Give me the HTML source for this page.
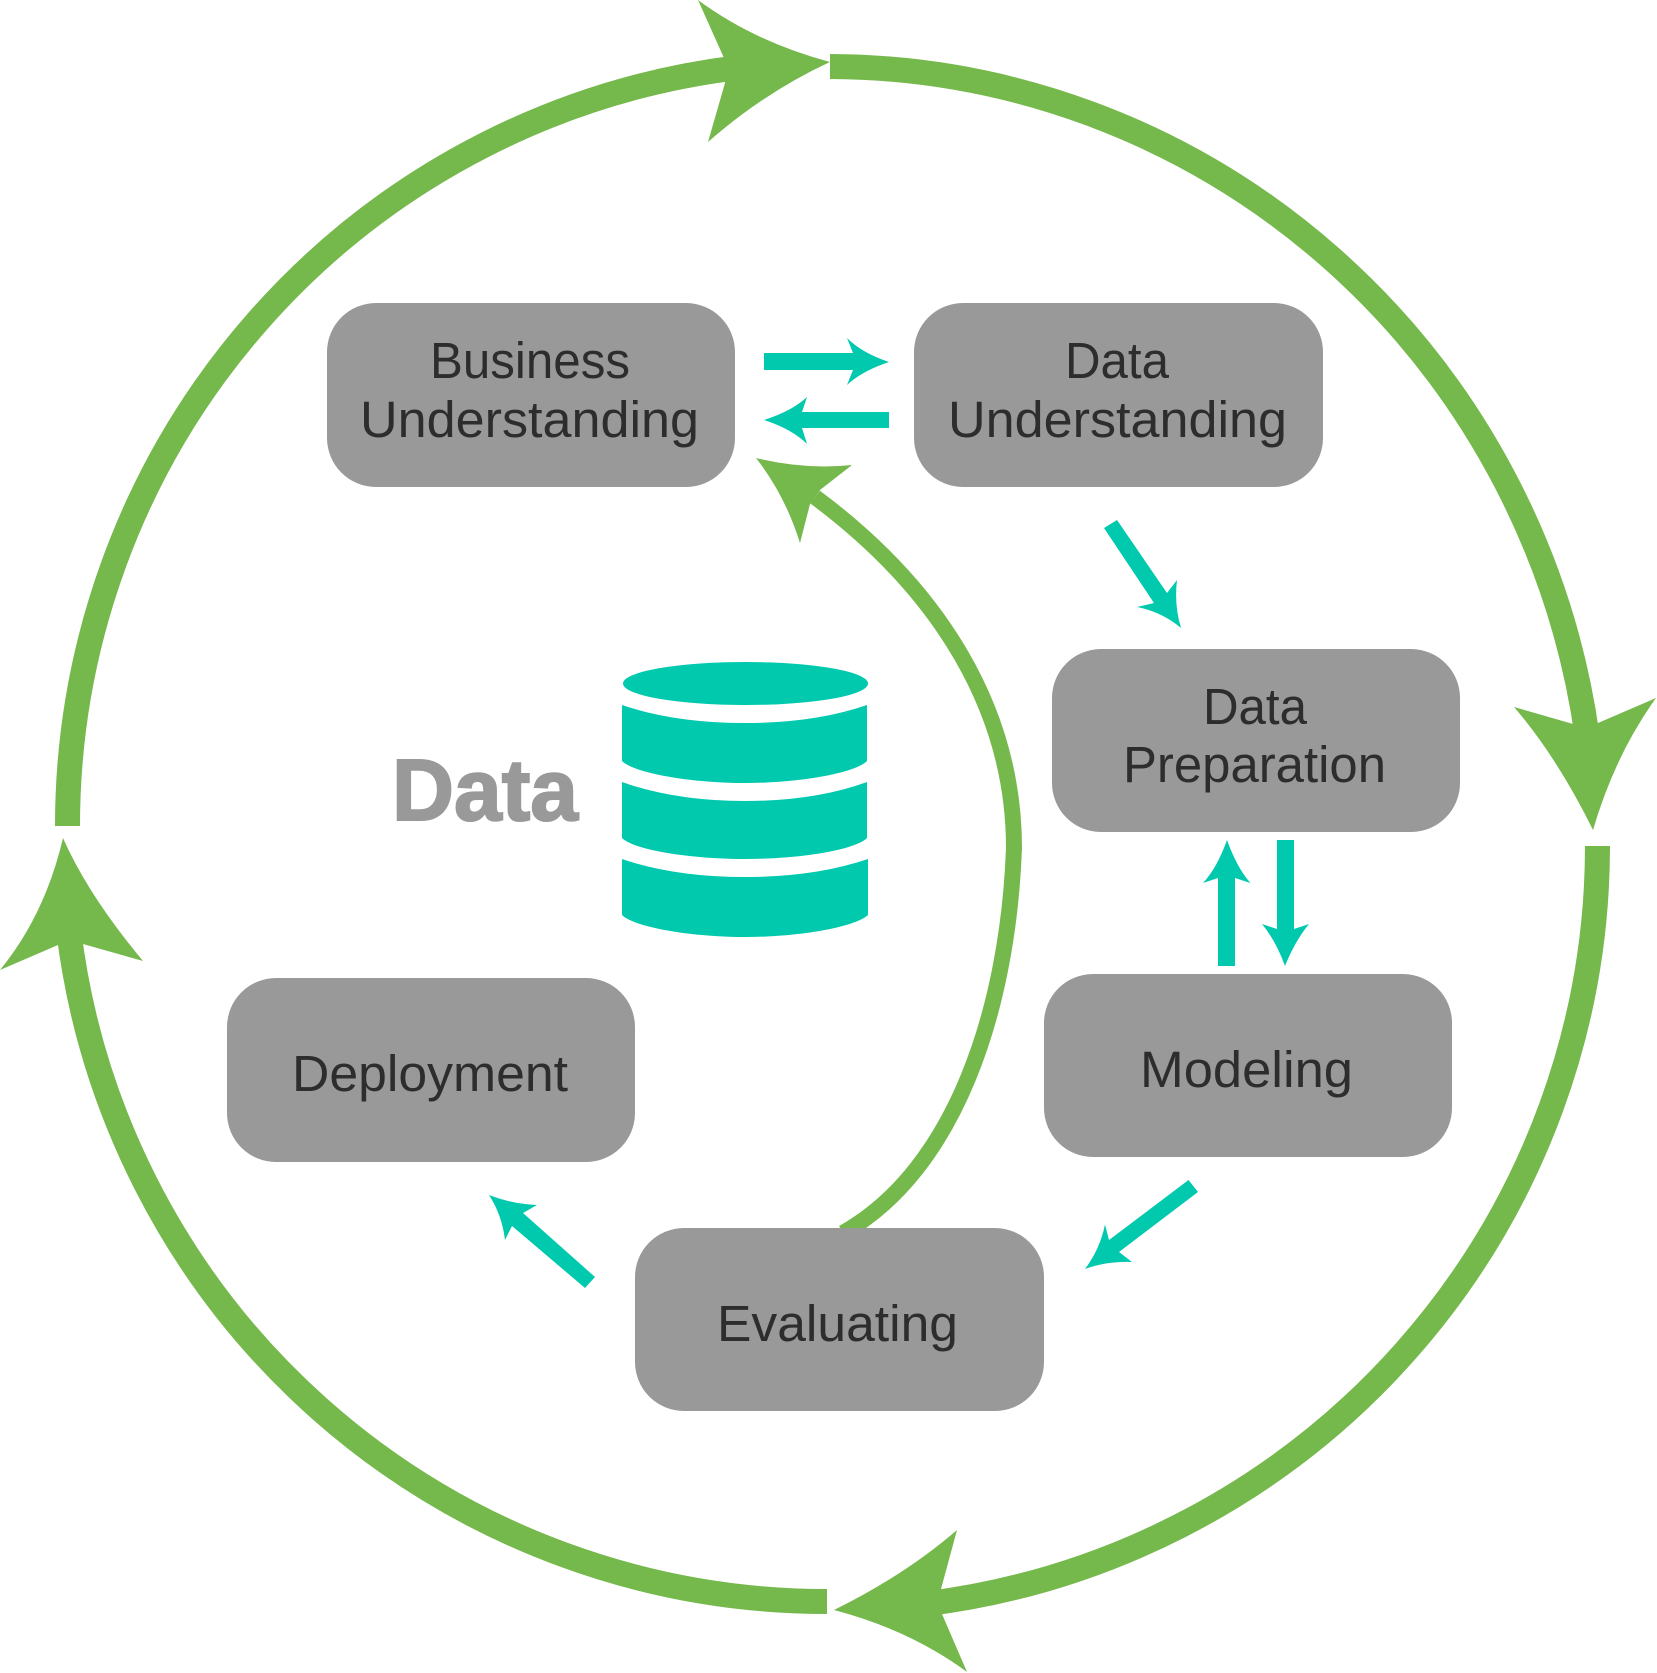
<!DOCTYPE html>
<html>
<head>
<meta charset="utf-8">
<style>
html,body{margin:0;padding:0;background:#fff;}
svg{display:block;}
text{font-family:"Liberation Sans",sans-serif;font-size:51px;fill:#2d2d2d;}
</style>
</head>
<body>
<svg xmlns="http://www.w3.org/2000/svg" width="1657" height="1673" viewBox="0 0 1657 1673">
<rect width="1657" height="1673" fill="#fff"/>

<!-- Outer ring -->
<g fill="none" stroke="#75b84b" stroke-width="25">
<path d="M830,66.5 A767.5,779.5 0 0 1 1587,735"/>
<path d="M1597.5,846 A767.5,764 0 0 1 925,1604"/>
<path d="M827,1601.5 A764,763.5 0 0 1 68.6,930"/>
<path d="M67.5,826 A762.5,764 0 0 1 735,68"/>
</g>
<g fill="#75b84b">
<path d="M698,0 Q755,42 830,62 Q765,92 708,142 L725,83 L724,58 Z"/>
<path d="M1514,707 Q1557,757 1593,830 Q1615,755 1656,698 L1598,723 L1573,724 Z"/>
<path d="M834,1610 Q905,1575 957,1530 L941,1589 L942,1614 L967,1672 Q910,1630 834,1610 Z"/>
<path d="M63,838 Q45,915 0,970 L58,945 L83,944 L143,961 Q88,895 63,838 Z"/>
</g>

<!-- Inner return curve -->
<path d="M815,497 C940,590 1014,710 1014,848 C1008,1010 955,1170 843,1233" fill="none" stroke="#75b84b" stroke-width="16"/>
<path fill="#75b84b" d="M756,458 Q805,470 852,465 L820,490 L810,504 L800,543 Q785,495 756,458 Z"/>

<!-- Boxes -->
<g fill="#999999">
<rect x="327" y="303" width="408" height="184" rx="49" ry="49"/>
<rect x="914" y="303" width="409" height="184" rx="49" ry="49"/>
<rect x="1052" y="649" width="408" height="183" rx="49" ry="49"/>
<rect x="1044" y="974" width="408" height="183" rx="49" ry="49"/>
<rect x="227" y="978" width="408" height="184" rx="49" ry="49"/>
<rect x="635" y="1228" width="409" height="183" rx="49" ry="49"/>
</g>

<!-- Box labels -->
<text x="430" y="378" textLength="200" lengthAdjust="spacingAndGlyphs">Business</text>
<text x="360" y="437" textLength="339" lengthAdjust="spacingAndGlyphs">Understanding</text>
<text x="1065" y="378" textLength="104" lengthAdjust="spacingAndGlyphs">Data</text>
<text x="948" y="437" textLength="339" lengthAdjust="spacingAndGlyphs">Understanding</text>
<text x="1203" y="724" textLength="104" lengthAdjust="spacingAndGlyphs">Data</text>
<text x="1123" y="782" textLength="263" lengthAdjust="spacingAndGlyphs">Preparation</text>
<text x="1140" y="1087" textLength="213" lengthAdjust="spacingAndGlyphs">Modeling</text>
<text x="292" y="1091" textLength="276" lengthAdjust="spacingAndGlyphs">Deployment</text>
<text x="717" y="1341" textLength="241" lengthAdjust="spacingAndGlyphs">Evaluating</text>

<!-- Teal arrows -->
<g fill="#00c9ae">
<path d="M764,353 L853,353 L847,338 Q862,353 889,362 Q862,371 847,385 L853,370 L764,370 Z"/>
<path d="M889,412 L802,412 L807,397 Q792,411 764,420 Q792,429 807,444 L802,428 L889,428 Z"/>
<path d="M1104,528 L1117,520 L1167,593 L1177,580 Q1174,605 1181,628 Q1162,612 1137,607 L1154,603 Z"/>
<path d="M1218,966 L1218,878 L1203,883 Q1217,868 1227,840 Q1237,868 1250.5,883 L1235,878 L1235,966 Z"/>
<path d="M1277,840 L1294,840 L1294,929 L1309,924 Q1295,941 1285,966 Q1276,941 1262,924 L1277,929 Z"/>
<path d="M1188.5,1180 L1198,1192 L1119,1252 L1132,1262 Q1107,1261 1085,1269 Q1100,1249 1105,1224.5 L1109,1240 Z"/>
<path d="M595,1277 L585,1288 L512,1226 L505,1240 Q502,1215 489,1195 Q512,1204 537,1205 L523,1213 Z"/>
</g>

<!-- Data label and database -->
<text x="392" y="820" textLength="186" lengthAdjust="spacingAndGlyphs" style="font-size:87px;font-weight:bold;fill:#999999;stroke:#999999;stroke-width:2px;">Data</text>
<g fill="#00c9ae">
<ellipse cx="745.5" cy="683.5" rx="122.5" ry="21.5"/>
<path d="M622,705 Q675,723 745,723 Q815,723 867,705 L867,761 C855,773 800,783 745,783 C690,783 634,773 622,761 Z"/>
<path d="M622,782 Q675,801 745,801 Q815,801 867,782 L867,838 C855,850 800,859 745,859 C690,859 634,850 622,838 Z"/>
<path d="M622,859 Q675,877 745,877 Q815,877 868,859 L868,915 C855,927 800,937 745,937 C690,937 634,927 622,915 Z"/>
</g>
</svg>
</body>
</html>
